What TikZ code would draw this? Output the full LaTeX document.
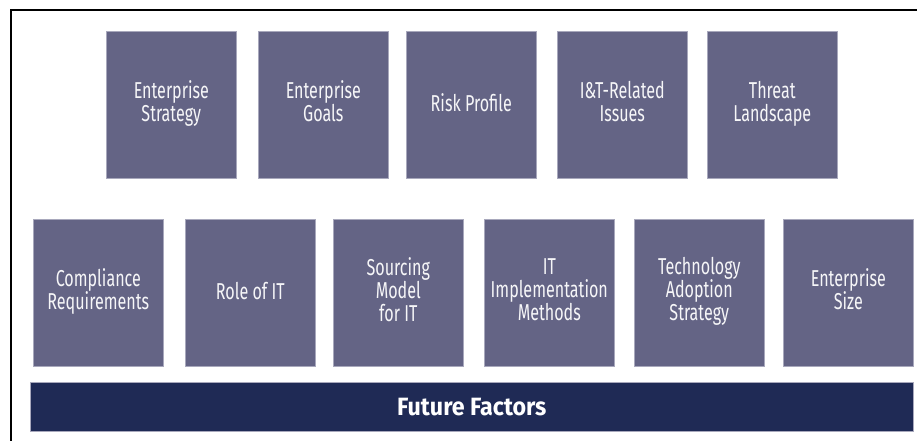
\documentclass[tikz,border=0pt]{standalone}
\usepackage{fontspec}
\setmainfont[FakeStretch=0.70]{Fira Sans}
\newfontfamily\barfont[FakeStretch=0.93]{Fira Sans}
\definecolor{boxfill}{HTML}{646485}
\definecolor{boxline}{HTML}{A8A8BC}
\definecolor{barfill}{HTML}{1F2A55}
\tikzset{
  fbox/.style={fill=boxfill, draw=boxline, line width=0.6pt, text=white!94!boxfill,
    minimum width=130pt, minimum height=147pt, align=center, inner sep=0pt,
    font=\fontsize{23}{23}\selectfont, anchor=north west,
    execute at begin node={\rule{0pt}{21pt}},
    execute at end node={\rule[-6.9pt]{0pt}{6.9pt}}},
  fbar/.style={fill=barfill, draw=boxline, line width=0.6pt, text=white,
    minimum width=883pt, minimum height=49pt, inner sep=0pt,
    font=\barfont\fontsize{25}{28}\selectfont\bfseries, anchor=north west},
  frameline/.style={line width=2pt, black}
}
\begin{document}
\begin{tikzpicture}[x=1pt,y=-1pt]
\useasboundingbox (0,0) rectangle (917,441);
\fill[white] (0,0) rectangle (917,441);
\draw[frameline] (11,441) -- (11,10) -- (917,10);
% top row
\node[fbox] (es) at (106,31) {Enterprise\\Strategy};
\node[fbox] (eg) at (258,31) {Enterprise\\Goals};
\node[fbox] (rp) at (406,31) {Risk Profile};
\node[fbox] (it) at (557,31) {I\&T-Related\\Issues};
\node[fbox] (tl) at (707,31) {Threat\\Landscape};
% bottom row
\node[fbox] (cr) at (33,219) {Compliance\\Requirements};
\node[fbox] (ro) at (185,219) {Role of IT};
\node[fbox] (sm) at (333,219) {Sourcing\\Model\\for IT};
\node[fbox] (im) at (484,219) {IT\\Implementation\\Methods};
\node[fbox] (ta) at (634,219) {Technology\\Adoption\\Strategy};
\node[fbox] (sz) at (783,219) {Enterprise\\Size};
% bar
\node[fbar] (ff) at (30,382) {Future Factors};
\end{tikzpicture}
\end{document}
